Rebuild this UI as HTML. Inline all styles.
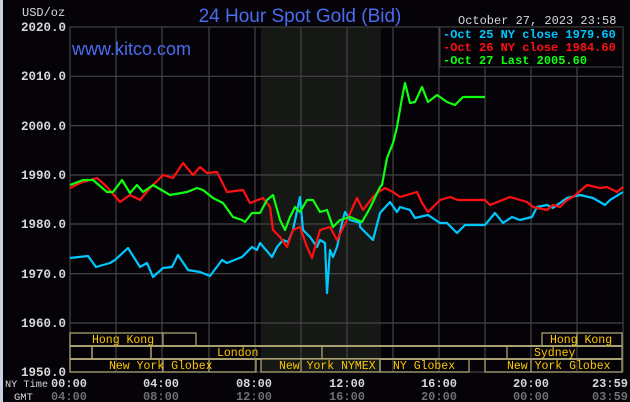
<!DOCTYPE html>
<html><head><style>
html,body{margin:0;padding:0;background:#050308;}
svg{display:block;}
</style></head><body>
<svg width="630" height="402" xmlns="http://www.w3.org/2000/svg">
<rect width="630" height="402" fill="#050308"/>
<rect x="0" y="0" width="3" height="402" fill="#c8d0e0"/>
<rect x="261" y="27" width="120" height="345" fill="#151815"/>
<g stroke="#444" stroke-width="1.2" fill="none">
<line x1="70" y1="76.3" x2="623" y2="76.3"/>
<line x1="70" y1="125.6" x2="623" y2="125.6"/>
<line x1="70" y1="175" x2="623" y2="175"/>
<line x1="70" y1="224" x2="623" y2="224"/>
<line x1="70" y1="273.6" x2="623" y2="273.6"/>
<line x1="70" y1="323" x2="623" y2="323"/>
<line x1="116" y1="27" x2="116" y2="372"/><line x1="162" y1="27" x2="162" y2="372"/>
<line x1="209" y1="27" x2="209" y2="372"/><line x1="255" y1="27" x2="255" y2="372"/>
<line x1="301" y1="27" x2="301" y2="372"/><line x1="347" y1="27" x2="347" y2="372"/>
<line x1="393" y1="27" x2="393" y2="372"/><line x1="439" y1="27" x2="439" y2="372"/>
<line x1="485" y1="27" x2="485" y2="372"/><line x1="531" y1="27" x2="531" y2="372"/>
<line x1="577" y1="27" x2="577" y2="372"/>
<rect x="70" y="27" width="553" height="345"/>
</g>
<g fill="none" stroke-width="2.2" stroke-linejoin="round">
<polyline stroke="#00c8ff" points="70,258 88,256 96,267 110,263 115,260 128,248 140,267 147,263 153,277 163,268 172,267 178,255 188,270 200,272 210,276 222,260 227,263 242,257 252,247 257,250 260,243 272,257 277,247 283,240 288,242 293,230 300,197 303,230 310,237 317,247 320,240 325,243 327,293 330,250 333,257 337,247 342,223 345,212 350,220 360,223 360,227 373,240 380,213 390,202 397,212 400,207 410,210 415,218 428,215 440,223 447,223 457,233 465,225 485,225 495,213 503,223 512,217 520,220 532,217 537,207 547,205 553,208 567,198 580,195 593,198 605,205 610,200 623,192"/>
<polyline stroke="#ff1010" points="70,188 80,183 97,178 107,187 120,202 130,195 140,200 150,188 163,175 173,178 183,163 193,175 200,167 207,173 217,172 227,192 243,190 250,203 263,198 270,207 273,230 280,237 287,247 293,230 300,227 307,247 312,258 320,230 330,227 337,240 347,220 357,198 363,210 373,197 380,190 377,193 385,188 393,192 400,197 417,192 422,203 428,212 440,200 450,197 458,200 485,200 490,205 510,197 527,202 533,207 547,210 553,205 560,207 567,200 573,197 587,185 600,188 607,187 617,192 623,187"/>
<polyline stroke="#10ff10" points="70,185 83,180 93,180 107,192 113,192 122,180 130,193 137,185 143,192 153,185 170,195 187,192 197,188 203,190 213,198 223,203 233,217 242,220 245,222 252,213 260,213 267,200 273,195 280,220 285,230 290,217 295,207 300,212 307,200 313,200 320,212 327,210 333,227 340,220 350,217 362,222 370,208 380,187 382,185 387,158 393,143 397,127 402,98 405,83 410,103 415,102 422,87 428,102 437,95 447,102 455,105 463,97 485,97"/>
</g>
<g fill="none" stroke="#a8a070" stroke-width="1.3">
<rect x="70" y="333" width="126" height="13"/><line x1="163" y1="333" x2="163" y2="346"/>
<rect x="542" y="333" width="80" height="13"/><line x1="577" y1="333" x2="577" y2="346"/>
<line x1="70" y1="346" x2="622" y2="346" stroke-width="2"/>
<rect x="70" y="346" width="22" height="13"/><rect x="92" y="346" width="59" height="13"/>
<rect x="151" y="346" width="171" height="13"/><rect x="507" y="346" width="115" height="13"/>
<line x1="70" y1="359" x2="622" y2="359" stroke-width="2"/>
<rect x="70" y="359" width="186" height="13"/><line x1="163" y1="359" x2="163" y2="372"/><line x1="209" y1="359" x2="209" y2="372"/>
<rect x="261" y="359" width="119" height="13" fill="#151815"/><line x1="301" y1="359" x2="301" y2="372"/>
<rect x="380" y="359" width="89" height="13"/>
<rect x="485" y="359" width="137" height="13"/><line x1="531" y1="359" x2="531" y2="372"/>
</g>
<g font-family="Liberation Mono, monospace" font-size="11.5" fill="#ffc800">
<text x="92" y="343">Hong Kong</text>
<text x="550" y="343">Hong Kong</text>
<text x="217" y="356">London</text>
<text x="534" y="356">Sydney</text>
<text x="109" y="369">New York Globex</text>
<text x="279" y="369">New York NYMEX</text>
<text x="393" y="369">NY Globex</text>
<text x="507" y="369">New York Globex</text>
</g>
<g font-family="Liberation Mono, monospace" font-size="12.5" font-weight="bold" fill="#d8d8d8" text-anchor="end">
<text x="66" y="31">2020.0</text><text x="66" y="80">2010.0</text><text x="66" y="130">2000.0</text>
<text x="66" y="179">1990.0</text><text x="66" y="228">1980.0</text><text x="66" y="278">1970.0</text>
<text x="66" y="327">1960.0</text><text x="66" y="376">1950.0</text>
</g>
<text x="22" y="16" font-family="Liberation Mono, monospace" font-size="12" fill="#d8d8d8">USD/oz</text>
<text x="300" y="22" font-family="Liberation Sans, sans-serif" font-size="19" fill="#4a6cf0" text-anchor="middle">24 Hour Spot Gold (Bid)</text>
<text x="72" y="55" font-family="Liberation Sans, sans-serif" font-size="18" fill="#4a6cf0">www.kitco.com</text>
<text x="458" y="24" font-family="Liberation Mono, monospace" font-size="12" fill="#d8d8d8">October 27, 2023 23:58</text>
<rect x="440" y="27" width="183" height="40" fill="#050308" stroke="#444"/>
<g font-family="Liberation Mono, monospace" font-size="12" font-weight="bold">
<text x="443" y="38" fill="#00c8ff">-Oct 25 NY close 1979.60</text>
<text x="443" y="51" fill="#ff1010">-Oct 26 NY close 1984.60</text>
<text x="443" y="64" fill="#10ff10">-Oct 27 Last 2005.60</text>
</g>
<g font-family="Liberation Mono, monospace" font-size="12" font-weight="bold" fill="#d8d8d8" text-anchor="middle">
<text x="5" y="387" text-anchor="start" font-weight="normal" font-size="10.5" textLength="43" lengthAdjust="spacingAndGlyphs">NY Time</text>
<text x="69" y="387">00:00</text><text x="161" y="387">04:00</text><text x="254" y="387">08:00</text>
<text x="347" y="387">12:00</text><text x="439" y="387">16:00</text><text x="531" y="387">20:00</text>
<text x="628" y="387" text-anchor="end">23:59</text>
</g>
<g font-family="Liberation Mono, monospace" font-size="12" font-weight="bold" fill="#707070" text-anchor="middle">
<text x="14" y="400" text-anchor="start" font-weight="normal" fill="#d8d8d8" font-size="10.5">GMT</text>
<text x="69" y="400">04:00</text><text x="161" y="400">08:00</text><text x="254" y="400">12:00</text>
<text x="347" y="400">16:00</text><text x="439" y="400">20:00</text><text x="531" y="400">00:00</text>
<text x="628" y="400" text-anchor="end">03:59</text>
</g>
</svg>
</body></html>
